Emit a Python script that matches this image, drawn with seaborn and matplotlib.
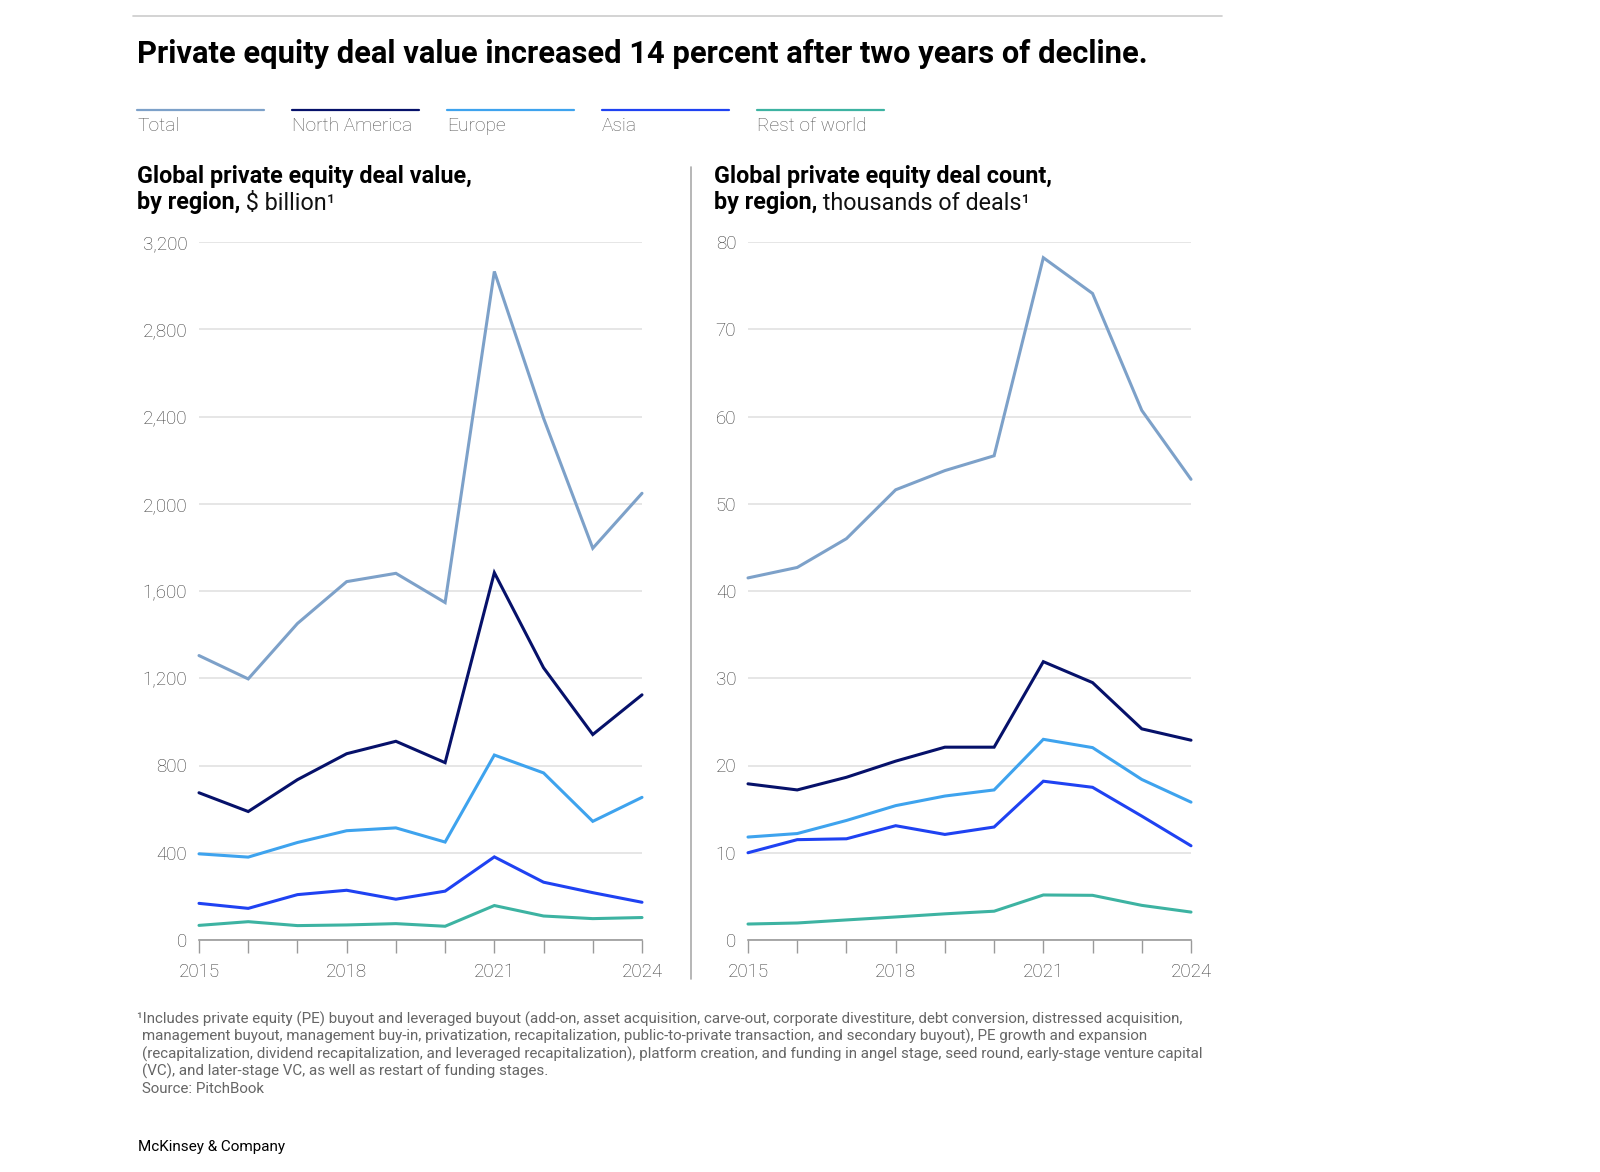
import matplotlib

matplotlib.use("Agg")

import matplotlib.pyplot as plt
import pandas as pd
import seaborn as sns
from matplotlib.lines import Line2D

years = [2015, 2016, 2017, 2018, 2019, 2020, 2021, 2022, 2023, 2024]
regions = ["Total", "North America", "Europe", "Asia", "Rest of world"]

# deal value, $ billion
value_total = [1304, 1197, 1451, 1643, 1681, 1547, 3065, 2392, 1796, 2048]
value_na = [675, 589, 735, 854, 911, 813, 1684, 1248, 942, 1124]
value_europe = [395, 380, 447, 501, 514, 449, 848, 766, 544, 654]
value_asia = [168, 145, 208, 228, 187, 224, 381, 265, 217, 173]
value_row = [67, 84, 66, 69, 75, 63, 158, 110, 98, 103]

# deal count, thousands of deals
count_total = [41.5, 42.7, 46.0, 51.6, 53.8, 55.5, 78.2, 74.1, 60.7, 52.8]
count_na = [17.9, 17.2, 18.65, 20.5, 22.1, 22.1, 31.9, 29.5, 24.2, 22.9]
count_europe = [11.8, 12.2, 13.7, 15.4, 16.5, 17.2, 23.0, 22.05, 18.4, 15.8]
count_asia = [10.0, 11.5, 11.6, 13.1, 12.1, 12.95, 18.2, 17.5, 14.2, 10.8]
count_row = [1.83, 1.95, 2.3, 2.64, 3.0, 3.3, 5.16, 5.12, 3.97, 3.2]

value_ticks = [0, 400, 800, 1200, 1600, 2000, 2400, 2800, 3200]
count_ticks = [0, 10, 20, 30, 40, 50, 60, 70, 80]
year_labels = {2015: "2015", 2018: "2018", 2021: "2021", 2024: "2024"}

palette = {
    "Total": "#7da1c9",
    "North America": "#06116a",
    "Europe": "#3ea3ee",
    "Asia": "#1f42f2",
    "Rest of world": "#3db3a2",
}


def long_frame(series):
    rows = []
    for name, vals in zip(regions, series):
        for y, v in zip(years, vals):
            rows.append({"year": y, "region": name, "value": v})
    return pd.DataFrame(rows)


value_df = long_frame([value_total, value_na, value_europe, value_asia, value_row])
count_df = long_frame([count_total, count_na, count_europe, count_asia, count_row])

sns.set_theme(style="white")
plt.rcParams["font.family"] = ["Roboto", "DejaVu Sans"]

W, H = 1600, 1172
fig = plt.figure(figsize=(W / 100, H / 100), dpi=100)


def fx(px):
    return px / W


def fy(py):
    return 1 - py / H


ax_l = fig.add_axes([fx(199), fy(940), fx(642) - fx(199), fy(242) - fy(940)])
ax_r = fig.add_axes([fx(748), fy(940), fx(1191) - fx(748), fy(242) - fy(940)])


def style_axis(ax, df, ticks, fmt):
    sns.lineplot(data=df, x="year", y="value", hue="region", hue_order=regions,
                 palette=palette, linewidth=2.2, legend=False, ax=ax)
    for ln in ax.lines:
        ln.set_clip_on(False)
        ln.set_solid_joinstyle("miter")
    ax.set_xlim(years[0], years[-1])
    ax.set_ylim(ticks[0], ticks[-1])
    ax.set_xticks(years)
    ax.set_xticklabels([year_labels.get(y, "") for y in years])
    ax.set_yticks(ticks)
    ax.set_yticklabels([fmt(t) for t in ticks])
    ax.set_xlabel("")
    ax.set_ylabel("")
    ax.grid(axis="y", color="#e2e2e2", linewidth=1.2)
    ax.grid(axis="x", visible=False)
    ax.set_axisbelow(True)
    for s in ["top", "right", "left"]:
        ax.spines[s].set_visible(False)
    ax.spines["bottom"].set_color("#9a9a9a")
    ax.spines["bottom"].set_linewidth(1.2)
    ax.tick_params(axis="x", direction="out", length=9.5, width=1.0,
                   color="#9a9a9a", labelsize=13.5, labelcolor="#3a3a3a", pad=7,
                   bottom=True)
    ax.tick_params(axis="y", length=0, labelsize=13.5, labelcolor="#3a3a3a", pad=8.5)
    for lab in ax.get_xticklabels() + ax.get_yticklabels():
        lab.set_fontweight("light")


style_axis(ax_l, value_df, value_ticks, lambda t: f"{t:,}")
style_axis(ax_r, count_df, count_ticks, lambda t: f"{t}")

# top rule and headline
fig.add_artist(Line2D([fx(133), fx(1222)], [fy(16), fy(16)], color="#cccccc", linewidth=1.2))
fig.text(fx(137), fy(54), "Private equity deal value increased 14 percent after two years of decline.",
         fontsize=22.2, fontweight="bold", color="#000000", va="center", ha="left")

# legend
for i, name in enumerate(regions):
    x0 = 137 + i * 155
    fig.add_artist(Line2D([fx(x0), fx(x0 + 127)], [fy(110), fy(110)],
                          color=palette[name], linewidth=1.6))
    fig.text(fx(x0), fy(126), name, fontsize=13.8, color="#555555",
             va="center", ha="left", fontweight="light")


# panel subtitles
def subtitle(x, first, second_bold, second_rest):
    fig.text(fx(x), fy(176), first, fontsize=16.8, fontweight="bold",
             va="center", ha="left", color="#000000")
    t = fig.text(fx(x), fy(203), second_bold, fontsize=16.8, fontweight="bold",
                 va="center", ha="left", color="#000000")
    fig.add_artist(plt.Annotation(second_rest, xy=(1, 0), xycoords=t,
                                  fontsize=16.8, va="bottom", ha="left",
                                  color="#111111", fontweight="normal"))


subtitle(137, "Global private equity deal value,", "by region,", r" \$ billion¹")
subtitle(714, "Global private equity deal count,", "by region,", " thousands of deals¹")

# divider between panels
fig.add_artist(Line2D([fx(691), fx(691)], [fy(167), fy(979)], color="#aaaaaa", linewidth=1.2))

# footnotes
notes = [
    "¹Includes private equity (PE) buyout and leveraged buyout (add-on, asset acquisition, carve-out, corporate divestiture, debt conversion, distressed acquisition,",
    "management buyout, management buy-in, privatization, recapitalization, public-to-private transaction, and secondary buyout), PE growth and expansion",
    "(recapitalization, dividend recapitalization, and leveraged recapitalization), platform creation, and funding in angel stage, seed round, early-stage venture capital",
    "(VC), and later-stage VC, as well as restart of funding stages.",
    "Source: PitchBook",
]
note_y = [1019, 1036, 1054, 1071, 1089]
for i, (line, y) in enumerate(zip(notes, note_y)):
    fig.text(fx(137 if i == 0 else 142), fy(y), line, fontsize=10.9, color="#666666",
             va="center", ha="left")

fig.text(fx(138), fy(1147), "McKinsey & Company", fontsize=11, color="#000000",
         va="center", ha="left")

fig.savefig("out.png", dpi=100)
plt.close(fig)
